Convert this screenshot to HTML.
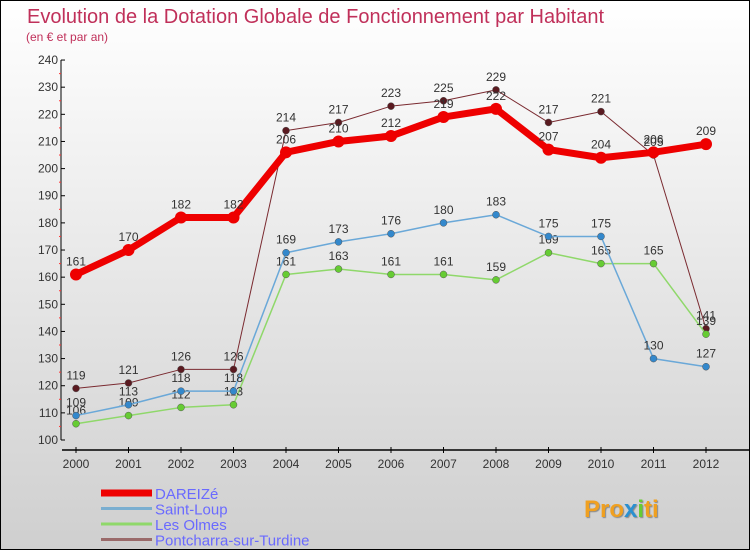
<!DOCTYPE html>
<html><head><meta charset="utf-8"><style>
body{margin:0}
#c{width:748px;height:548px;border:1px solid #000;background:linear-gradient(#fff,#cfcfcf);position:relative;font-family:"Liberation Sans",sans-serif;overflow:hidden}
</style></head><body>
<div id="c">
<svg id="s" width="748" height="548">
<text x="26" y="22" font-size="20" fill="#c0305a">Evolution de la Dotation Globale de Fonctionnement par Habitant</text>
<text x="25" y="40" font-size="12" fill="#c0305a">(en € et par an)</text>
<g id="ax"></g><g id="series"></g><g id="legend"></g>
<text x="583" y="516" font-size="24" font-weight="bold" fill="#f0a020" style="text-shadow:1px 1px 1px #888">Pro<tspan fill="#2a90d0">x</tspan><tspan fill="#6c3">i</tspan>ti</text>
</svg></div>
<script>
const years=[2000,2001,2002,2003,2004,2005,2006,2007,2008,2009,2010,2011,2012];
const yTicks=[100,110,120,130,140,150,160,170,180,190,200,210,220,230,240];
const dareize=[161,170,182,182,206,210,212,219,222,207,204,206,209];
const saintLoup=[109,113,118,118,169,173,176,180,183,175,175,130,127];
const lesOlmes=[106,109,112,113,161,163,161,161,159,169,165,165,139];
const pontcharra=[119,121,126,126,214,217,223,225,229,217,221,205,141];
const seriesNames=["DAREIZé","Saint-Loup","Les Olmes","Pontcharra-sur-Turdine"];
const NS="http://www.w3.org/2000/svg";
const X=i=>75+i*52.5, Y=v=>439-(v-100)*2.714;
function mk(t,a,p){const e=document.createElementNS(NS,t);for(const k in a)e.setAttribute(k,a[k]);p.appendChild(e);return e;}
const ax=document.getElementById('ax');
let l=mk('line',{x1:60,y1:59,x2:60,y2:439,stroke:'#000'},ax);


l=mk('line',{x1:61,y1:449,x2:748,y2:449,stroke:'#000','stroke-width':1.5},ax);


yTicks.forEach((v,i)=>{
 mk('line',{x1:60,y1:Y(v),x2:64,y2:Y(v),stroke:'#000'},ax);
 if(i<yTicks.length-1) mk('line',{x1:58,y1:Y(v+5),x2:60,y2:Y(v+5),stroke:'#f33'},ax);
 const t=mk('text',{x:57,y:Y(v)+4,'font-size':12,'text-anchor':'end',fill:'#333'},ax);t.textContent=v;
 
 
});
years.forEach((y,i)=>{
 mk('line',{x1:X(i),y1:446,x2:X(i),y2:452,stroke:'#000'},ax);
 const t=mk('text',{x:X(i),y:467,'font-size':12,'text-anchor':'middle',fill:'#333'},ax);t.textContent=y;
 
 
});
const sg=document.getElementById('series');
const defs=[[pontcharra,'#7a2a30','#5a1a20',1,'pontcharra'],[lesOlmes,'#8fd86a','#66cc33',1.5,'les-olmes'],[saintLoup,'#6aa8d8','#3388cc',1.5,'saint-loup'],[dareize,'#ee0000','#ee0000',7,'dareize']];
defs.forEach(([d,c,fc,w,n])=>{
 const p=mk('polyline',{points:d.map((v,i)=>X(i)+','+Y(v)).join(' '),fill:'none',stroke:c,'stroke-width':w,'stroke-linejoin':'round'},sg);
 
 
 d.forEach((v,i)=>{
  const ci=mk('circle',{cx:X(i),cy:Y(v),r:w>3?6:3.5,fill:fc,stroke:w>3?'#ee0000':'#555','stroke-width':w>3?0:0.5},sg);
  
  
  const t=mk('text',{x:X(i),y:Y(v)-9,'font-size':12,'text-anchor':'middle',fill:'#333'},sg);t.textContent=v;
  
  
 });
});
const lg=document.getElementById('legend');
const lc=['#ee0000','#7aaed0','#8fd86a','#9a6a6a'],lw=[7,3,3,3];
seriesNames.forEach((s,i)=>{
 const y=492+i*15.5;
 const ln=mk('line',{x1:100,y1:y,x2:151,y2:y,stroke:lc[i],'stroke-width':lw[i]},lg);
 
 
 const t=mk('text',{x:154,y:y+6,'font-size':15,fill:'#6a6aff'},lg);t.textContent=s;
 
 
});
</script>
</body></html>
